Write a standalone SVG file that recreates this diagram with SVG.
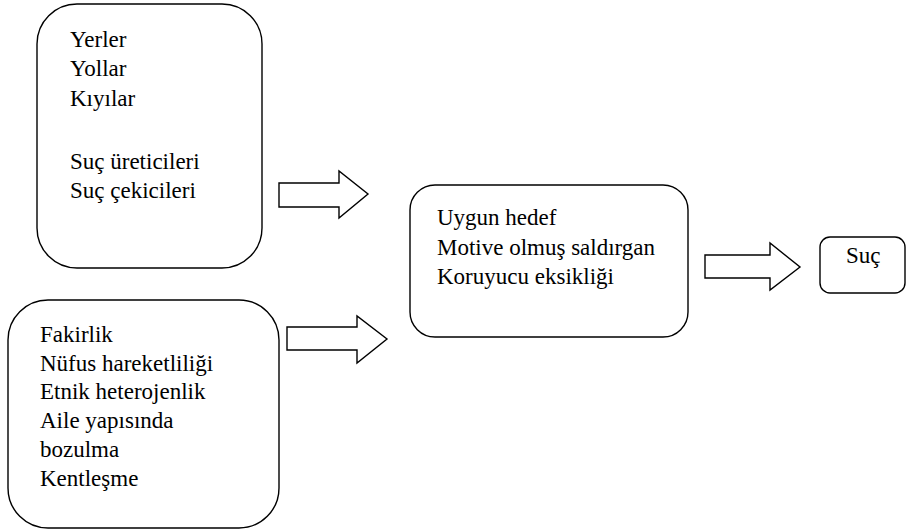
<svg xmlns="http://www.w3.org/2000/svg" width="907" height="531" viewBox="0 0 907 531">
<style>
.box{fill:#fff;stroke:#000;stroke-width:1.4}
.arr{fill:#fff;stroke:#000;stroke-width:1.4;stroke-linejoin:miter}
.t{font-family:'Liberation Serif','Times New Roman',serif;font-size:23px;fill:#000}
</style>
<rect width="907" height="531" fill="#fff"/>
<g id="node-places" class="t">
<rect class="box" x="37" y="4" width="225" height="264" rx="40" ry="40"/>
<text x="70" y="47">Yerler</text>
<text x="70" y="76">Yollar</text>
<text x="70" y="106">Kıyılar</text>
<text x="70" y="169">Suç üreticileri</text>
<text x="70" y="198">Suç çekicileri</text>
</g>
<g id="node-social" class="t">
<rect class="box" x="8" y="300" width="271" height="228" rx="40" ry="40"/>
<text x="40" y="342">Fakirlik</text>
<text x="40" y="371">Nüfus hareketliliği</text>
<text x="40" y="399">Etnik heterojenlik</text>
<text x="40" y="428">Aile yapısında</text>
<text x="40" y="457">bozulma</text>
<text x="40" y="486">Kentleşme</text>
</g>
<g id="node-conditions" class="t">
<rect class="box" x="410" y="185" width="278" height="152" rx="25" ry="25"/>
<text x="437" y="225">Uygun hedef</text>
<text x="437" y="255">Motive olmuş saldırgan</text>
<text x="437" y="284">Koruyucu eksikliği</text>
</g>
<g id="node-crime" class="t">
<rect class="box" x="820" y="237" width="85" height="56" rx="10" ry="10"/>
<text x="846" y="263">Suç</text>
</g>
<g id="connectors">
<polygon class="arr" points="279,183 339,183 339,171 368,194 339,218 339,207 279,207"/>
<polygon class="arr" points="287,327 357,327 357,316 387,339 357,363 357,350 287,350"/>
<polygon class="arr" points="705,255 770,255 770,243 800,267 770,290 770,278 705,278"/>
</g>
</svg>
